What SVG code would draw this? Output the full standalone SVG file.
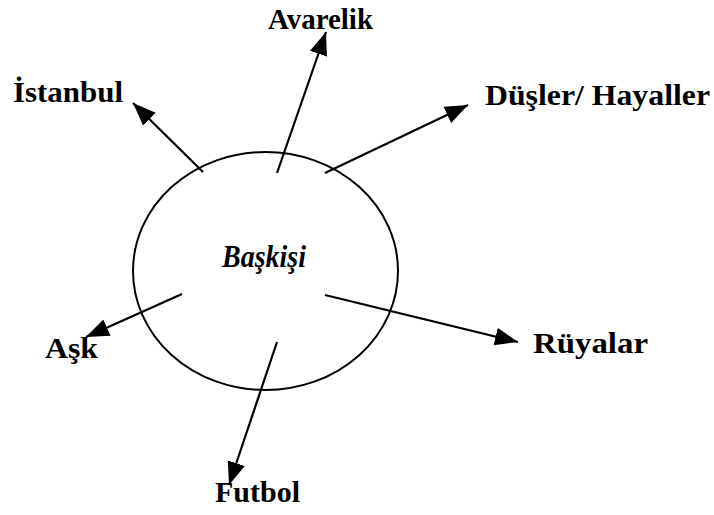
<svg xmlns="http://www.w3.org/2000/svg" width="714" height="515" viewBox="0 0 714 515">
  <style>
    .label { font-family: "Liberation Serif", "Times New Roman", serif; font-weight: bold; font-size: 30px; fill: #000; }
    .center { font-family: "Liberation Serif", "Times New Roman", serif; font-weight: bold; font-style: italic; font-size: 31px; fill: #000; }
    .link { stroke: #000; stroke-width: 2.2; fill: none; marker-end: url(#head); }
  </style>
  <defs>
    <marker id="head" markerUnits="userSpaceOnUse" markerWidth="26" markerHeight="20" refX="23" refY="9" orient="auto">
      <path d="M0,0 L23,9 L0,18 Z" fill="#000"/>
    </marker>
  </defs>
  <rect width="714" height="515" fill="#fff"/>

  <g id="core">
    <ellipse cx="265.5" cy="271" rx="132.5" ry="119" fill="none" stroke="#000" stroke-width="2"/>
    <text class="center" x="222" y="267" textLength="84" lengthAdjust="spacingAndGlyphs">Başkişi</text>
  </g>

  <g id="connectors">
    <line class="link" x1="203" y1="172" x2="133" y2="103"/>
    <line class="link" x1="277" y1="173" x2="326" y2="32"/>
    <line class="link" x1="325" y1="173" x2="468" y2="105"/>
    <line class="link" x1="182" y1="294" x2="86" y2="337"/>
    <line class="link" x1="325" y1="295" x2="518" y2="342"/>
    <line class="link" x1="277" y1="342" x2="229" y2="485"/>
  </g>

  <g id="istanbul"><text class="label" x="13" y="102" textLength="110" lengthAdjust="spacingAndGlyphs">İstanbul</text></g>
  <g id="avarelik"><text class="label" x="268" y="29" textLength="105" lengthAdjust="spacingAndGlyphs">Avarelik</text></g>
  <g id="dusler"><text class="label" x="485" y="105" textLength="225" lengthAdjust="spacingAndGlyphs">Düşler/ Hayaller</text></g>
  <g id="ask"><text class="label" x="45" y="358" textLength="53" lengthAdjust="spacingAndGlyphs">Aşk</text></g>
  <g id="ruyalar"><text class="label" x="533" y="353" textLength="115" lengthAdjust="spacingAndGlyphs">Rüyalar</text></g>
  <g id="futbol"><text class="label" x="215" y="502" textLength="85" lengthAdjust="spacingAndGlyphs">Futbol</text></g>
</svg>
